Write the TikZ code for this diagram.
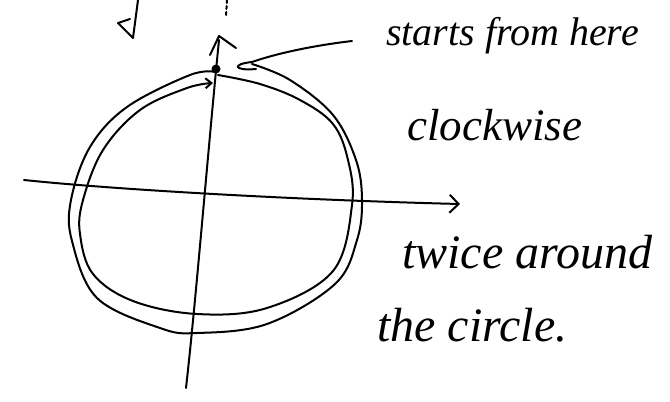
\documentclass[tikz,border=0pt]{standalone}
\usepackage{fontspec}
\setmainfont{Liberation Serif}
\usetikzlibrary{arrows.meta}
\begin{document}
\begin{tikzpicture}[x=1pt,y=-1pt,
  pen/.style={line width=2pt,line cap=round,line join=round},
  hand/.style={font=\itshape\fontsize{#1}{#1}\selectfont,inner sep=0pt,anchor=base west}]
\useasboundingbox (0,0) rectangle (670,402);
% partial letter at top left
\draw[pen] (138,0) -- (133,38) -- (118,23) -- (130,19);
% vertical axis
\draw[pen,dashed] (227,0) -- (226,16);
\draw[pen] (186,388) .. controls (196,300) and (208,150) .. (219,40);
\draw[pen] (210,55) -- (219,36) -- (236,48);
% horizontal axis
\draw[pen,-{Straight Barb[length=9pt,width=18pt]}] (24,180) .. controls (120,190) and (300,200) .. (460,204);
% start dot
\fill (216,69) circle (4.5);
\coordinate (start) at (216,69);
% outer loop
\draw[pen] plot[smooth,tension=0.6] coordinates {(252,64) (290,80) (333,115) (356,160) (362,200) (357,240) (335,284) (267,324) (197,333) (160,328) (97,298) (72,241) (71,200) (90,147) (127,107) (190,75) (216,72)};
% inner loop
\draw[pen,-{Straight Barb[length=6pt,width=10pt]}] plot[smooth,tension=0.6] coordinates {(218,75) (260,84) (300,100) (333,124) (348,160) (352,205) (333,271) (267,308) (197,314) (133,301) (93,274) (80,234) (83,200) (103,150) (140,110) (187,88) (213,83)};
% pointer
\draw[pen] (352,41) .. controls (310,46) and (275,54) .. (252,62) .. controls (232,64) and (233,71) .. (256,69);
% texts
\node[hand=40] (t1) at (386,45) {starts from here};
\node[hand=45] (t2) at (407,140) {clockwise};
\node[hand=48] (t3) at (402,268) {twice around};
\node[hand=48] (t4) at (377,341) {the circle.};
\end{tikzpicture}
\end{document}
